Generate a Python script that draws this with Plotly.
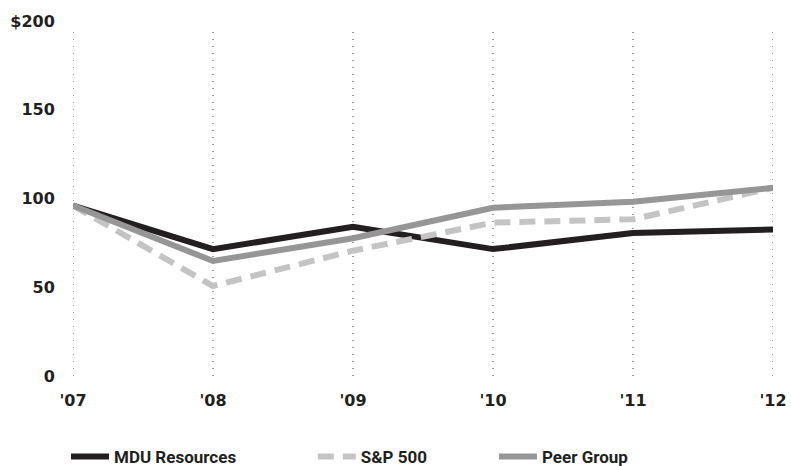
import plotly.graph_objects as go

years = ["'07", "'08", "'09", "'10", "'11", "'12"]
mdu = [96, 71.5, 84, 71.5, 80.5, 82.5]
sp500 = [96, 50.7, 70.6, 86.4, 88.3, 106]
peer = [96, 64.8, 77.6, 94.8, 98.2, 106]
y_tickvals = [0, 50, 100, 150, 200]
y_ticktext = ["0", "50", "100", "150", "$200"]
series_names = ["MDU Resources", "S&P 500", "Peer Group"]

DARK = "#231f20"
fig = go.Figure()
fig.add_trace(go.Scatter(x=years, y=mdu, name=series_names[0], mode="lines",
                         line=dict(color=DARK, width=6), cliponaxis=False, legend="legend"))
fig.add_trace(go.Scatter(x=years, y=sp500, name=series_names[1], mode="lines",
                         line=dict(color="#c4c4c4", width=6, dash="16px,9px"), cliponaxis=False, legend="legend2"))
fig.add_trace(go.Scatter(x=years, y=peer, name=series_names[2], mode="lines",
                         line=dict(color="#969696", width=6), cliponaxis=False, legend="legend3"))

for yr in years:
    fig.add_shape(type="line", x0=yr, x1=yr, y0=0, y1=197, xref="x", yref="y",
                  line=dict(color="#333333", width=1, dash="1px,6px"), layer="below")

legend_font = dict(family="Roboto", size=17, color=DARK, weight="bold")
leg_common = dict(orientation="h", yanchor="middle", xanchor="left", y=-0.228,
                  font=legend_font, itemwidth=38, bgcolor="rgba(0,0,0,0)")

fig.update_layout(
    width=791, height=466,
    margin=dict(l=73, r=18, t=21, b=90, autoexpand=False),
    plot_bgcolor="white", paper_bgcolor="white",
    showlegend=True,
    legend=dict(x=-0.01, **leg_common),
    legend2=dict(x=0.3426, **leg_common),
    legend3=dict(x=0.6014, **leg_common),
    xaxis=dict(type="category", range=[0, 5], showgrid=False, zeroline=False, showline=False,
               automargin=False,
               ticks="outside", ticklen=10, tickcolor="rgba(0,0,0,0)",
               tickfont=dict(family="DejaVu Sans", size=16, color=DARK, weight="bold")),
    yaxis=dict(range=[0, 200], tickvals=y_tickvals, ticktext=y_ticktext,
               showgrid=False, zeroline=False, showline=False, automargin=False,
               ticks="outside", ticklen=14, tickcolor="rgba(0,0,0,0)",
               tickfont=dict(family="DejaVu Sans", size=16, color=DARK, weight="bold")),
)

fig.write_html("out.html", config={"displayModeBar": False},
               post_script="document.body.style.margin='0';document.body.style.overflow='hidden';")
